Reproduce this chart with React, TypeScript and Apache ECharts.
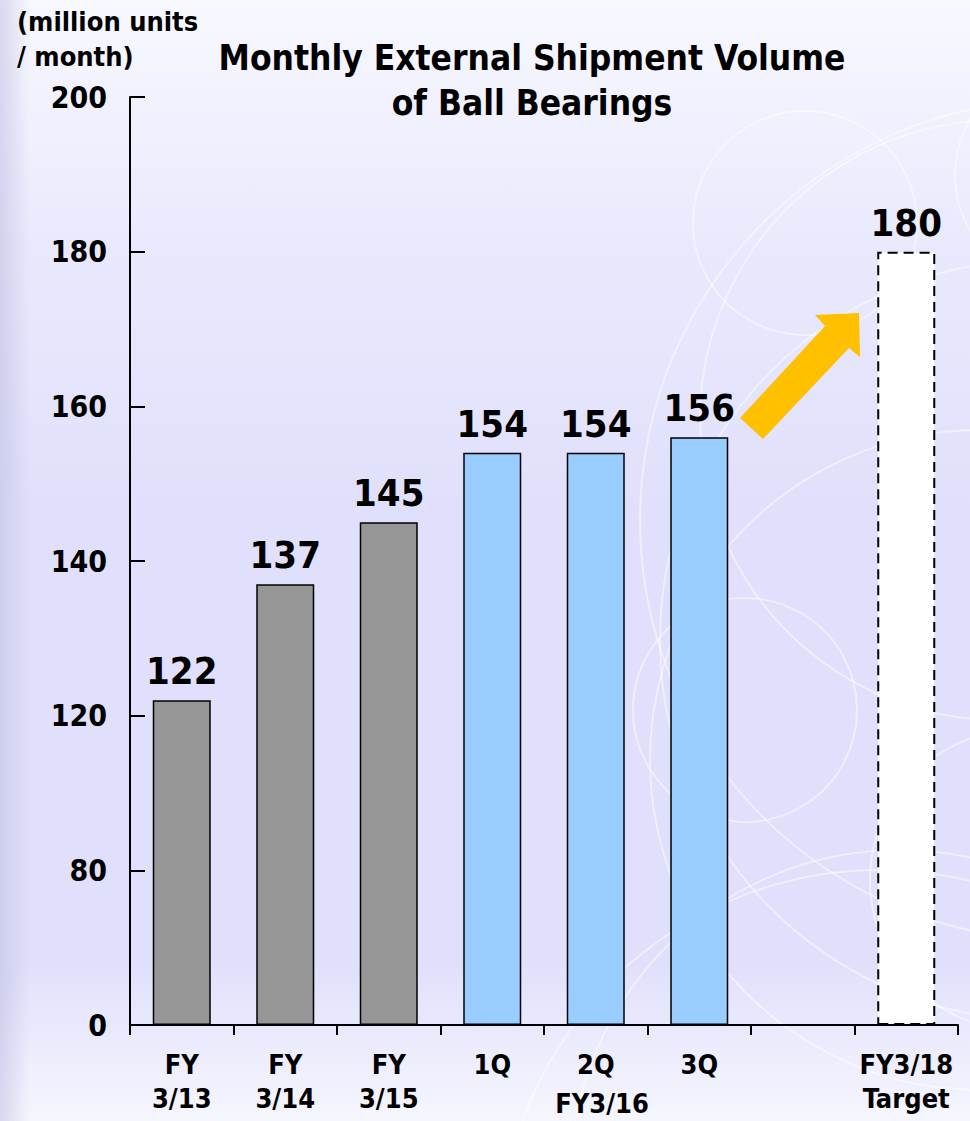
import React, { useEffect, useRef } from "react";
import * as echarts from "echarts";

const categories = ["FY\n3/13", "FY\n3/14", "FY\n3/15", "1Q", "2Q", "3Q", "", "FY3/18\nTarget"];
const values: (number | null)[] = [122, 137, 145, 154, 154, 156, null, 180];
const barKinds: (string | null)[] = ["annual", "annual", "annual", "quarter", "quarter", "quarter", null, "target"];
const tickValues = [0, 80, 120, 140, 160, 180, 200];
const groupLabel = "FY3/16";
const titleLines = ["Monthly External Shipment Volume", "of Ball Bearings"];
const unitLines = ["(million units", "/ month)"];

const FONT = '"DejaVu Sans Condensed", "DejaVu Sans", sans-serif';

// piecewise (broken) axis: each labelled tick is one axis step
function toAxis(v: number): number {
  for (let i = 0; i < tickValues.length - 1; i++) {
    const a = tickValues[i];
    const b = tickValues[i + 1];
    if (v <= b) return i + (v - a) / (b - a);
  }
  return tickValues.length - 1;
}

const kindStyle: Record<string, any> = {
  annual: { color: "#969696", borderColor: "#000", borderWidth: 1.5 },
  quarter: { color: "#99CCFF", borderColor: "#000", borderWidth: 1.5 },
  target: { color: "#FFFFFF", borderColor: "#000", borderWidth: 2, borderType: [10, 6] },
};

export default function App() {
  const ref = useRef<HTMLDivElement>(null);
  useEffect(() => {
    if (!ref.current) return;
    const chart = echarts.init(ref.current, undefined, { renderer: "svg" });
    const circleStyle = { fill: "none", stroke: "rgba(255,255,255,0.45)", lineWidth: 2 };
    const circles = [
      [805, 223, 112],
      [745, 710, 112],
      [1065, 175, 110],
      [1000, 420, 300],
      [1060, 520, 420],
      [1040, 640, 380],
      [980, 760, 330],
      [900, 1180, 330],
      [880, 1250, 380],
      [1020, 880, 150],
    ];
    const option: any = {
      animation: false,
      backgroundColor: new echarts.graphic.LinearGradient(0, 0, 0, 1, [
        { offset: 0, color: "#F8F8FF" },
        { offset: 0.22, color: "#E9E9FD" },
        { offset: 0.45, color: "#E0E0FC" },
        { offset: 0.86, color: "#E0E0FC" },
        { offset: 1, color: "#F6F6FE" },
      ]),
      grid: { left: 130, right: 12, top: 97, bottom: 96, containLabel: false },
      xAxis: {
        type: "category",
        data: categories,
        boundaryGap: true,
        axisLine: { show: true, lineStyle: { color: "#000", width: 2 } },
        axisTick: { show: true, inside: false, length: 10, interval: 0, lineStyle: { color: "#000", width: 2 } },
        axisLabel: {
          interval: 0,
          color: "#000",
          fontFamily: FONT,
          fontWeight: "bold",
          fontSize: 27,
          lineHeight: 34,
          margin: 22,
        },
      },
      yAxis: {
        type: "value",
        min: 0,
        max: tickValues.length - 1,
        interval: 1,
        splitLine: { show: false },
        axisLine: { show: true, lineStyle: { color: "#000", width: 2 } },
        axisTick: { show: true, inside: true, length: 15, lineStyle: { color: "#000", width: 2 } },
        axisLabel: {
          color: "#000",
          fontFamily: FONT,
          fontWeight: "bold",
          fontSize: 30,
          margin: 23,
          formatter: (v: number) => String(tickValues[Math.round(v)]),
        },
      },
      series: [
        {
          type: "bar",
          barWidth: 58,
          data: values.map((v, i) =>
            v == null
              ? null
              : { value: toAxis(v), itemStyle: kindStyle[barKinds[i] as string] }
          ),
          label: {
            show: true,
            position: "top",
            distance: 10,
            color: "#000",
            fontFamily: FONT,
            fontWeight: "bold",
            fontSize: 38,
            formatter: (p: any) => String(values[p.dataIndex]),
          },
        },
      ],
      graphic: [
        {
          type: "rect",
          silent: true,
          z: -20,
          shape: { x: 0, y: 0, width: 30, height: 1121 },
          style: {
            fill: new echarts.graphic.LinearGradient(0, 0, 1, 0, [
              { offset: 0, color: "rgba(190,190,225,0.55)" },
              { offset: 1, color: "rgba(190,190,225,0)" },
            ]),
          },
        },
        ...circles.map(([cx, cy, r]) => ({
          type: "circle",
          silent: true,
          z: -10,
          shape: { cx, cy, r },
          style: circleStyle,
        })),
        {
          type: "polygon",
          z: 5,
          shape: {
            points: [
              [740, 418],
              [825, 326],
              [815, 315],
              [859, 313],
              [860, 357],
              [849, 348],
              [763, 439],
            ],
          },
          style: { fill: "#FFC000" },
        },
        ...titleLines.map((t, i) => ({
          type: "text",
          x: 532,
          y: 58 + i * 45,
          style: {
            text: t,
            fill: "#000",
            font: `bold 35px ${FONT}`,
            textAlign: "center",
            textVerticalAlign: "middle",
          },
        })),
        ...unitLines.map((t, i) => ({
          type: "text",
          x: 17,
          y: 21 + i * 35,
          style: {
            text: t,
            fill: "#000",
            font: `bold 27px ${FONT}`,
            textAlign: "left",
            textVerticalAlign: "middle",
          },
        })),
        {
          type: "text",
          x: 602,
          y: 1103,
          style: {
            text: groupLabel,
            fill: "#000",
            font: `bold 27px ${FONT}`,
            textAlign: "center",
            textVerticalAlign: "middle",
          },
        },
      ],
    };
    chart.setOption(option);
    return () => chart.dispose();
  }, []);
  return (
    <div
      ref={ref}
      style={{ position: "fixed", left: 0, top: 0, width: 970, height: 1121 }}
    />
  );
}
